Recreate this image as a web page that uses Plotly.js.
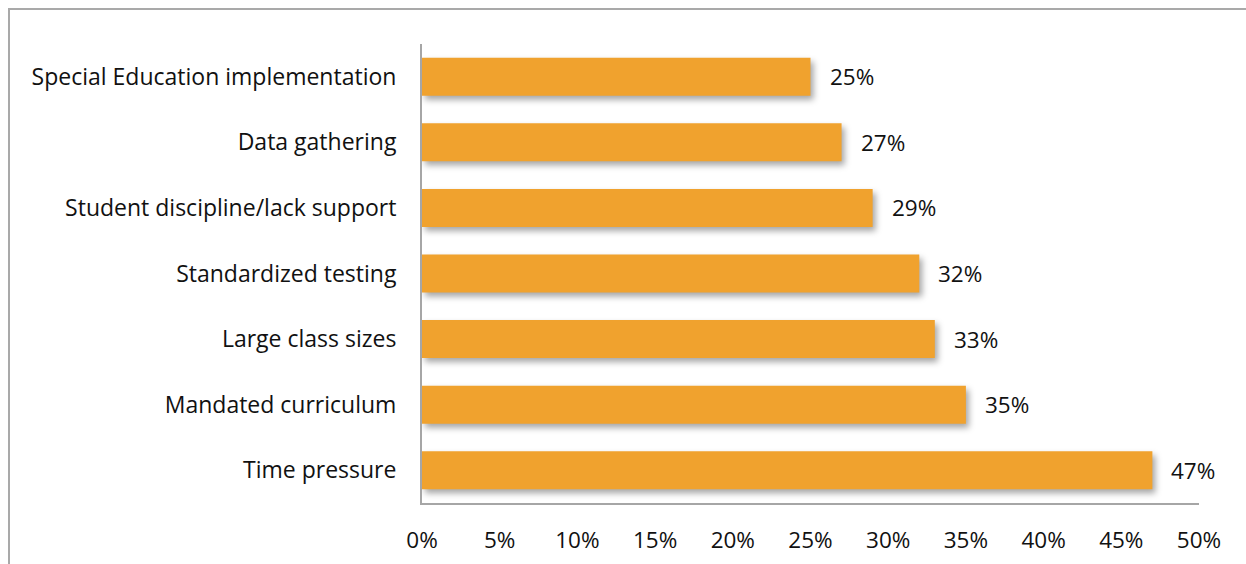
<!DOCTYPE html>
<html><head><meta charset="utf-8">
<script src="https://cdn.plot.ly/plotly-3.0.1.min.js"></script>
<style>
html,body{margin:0;padding:0;background:#fff;overflow:hidden;}
#chart{width:1246px;height:564px;position:absolute;left:0;top:0;}
#frame{position:absolute;left:8px;top:8px;width:1400px;height:800px;border:2px solid #a9a9a9;pointer-events:none;box-sizing:border-box;}
.bars path{filter:drop-shadow(3px 4px 3px rgba(0,0,0,0.35));}
</style></head>
<body>
<div id="chart"></div>
<div id="frame"></div>
<script>
const categories = ["Special Education implementation","Data gathering","Student discipline/lack support","Standardized testing","Large class sizes","Mandated curriculum","Time pressure"];
const values = [0.25,0.27,0.29,0.32,0.33,0.35,0.47];
const valueLabels = ["25%","27%","29%","32%","33%","35%","47%"];
const tickVals = [0,0.05,0.10,0.15,0.20,0.25,0.30,0.35,0.40,0.45,0.50];
const tickText = ["0%","5%","10%","15%","20%","25%","30%","35%","40%","45%","50%"];

const font = {family:"'Open Sans', Lato, sans-serif", size:23, color:"#111"};
const xfont = {family:"'Open Sans', Lato, sans-serif", size:22.5, color:"#111"};
const data = [{
  type:"bar", orientation:"h", x:values, y:categories,
  marker:{color:"#F0A22E", line:{width:0}},
  hoverinfo:"none"
}];
const annotations = categories.map((c,i)=>({
  x:values[i], y:c, xref:"x", yref:"y", text:valueLabels[i], showarrow:false,
  xanchor:"left", xshift:17, font:xfont
}));
const layout = {
  width:1246, height:564,
  margin:{l:422, r:47, t:44, b:61},
  paper_bgcolor:"rgba(0,0,0,0)", plot_bgcolor:"rgba(0,0,0,0)",
  bargap:0.42, showlegend:false, font:font,
  xaxis:{range:[0,0.5], tickvals:tickVals, ticktext:tickText, showgrid:false, zeroline:false,
    showline:true, linecolor:"#a6a6a6", linewidth:2, ticks:"", ticklabelstandoff:16, tickfont:xfont, fixedrange:true},
  yaxis:{type:"category", autorange:"reversed", showgrid:false, zeroline:false, showline:true,
    linecolor:"#a6a6a6", linewidth:2, ticks:"", ticklabelstandoff:19, tickfont:font, fixedrange:true},
  annotations:annotations
};
Plotly.newPlot("chart", data, layout, {displayModeBar:false, staticPlot:true});
</script>
</body></html>
